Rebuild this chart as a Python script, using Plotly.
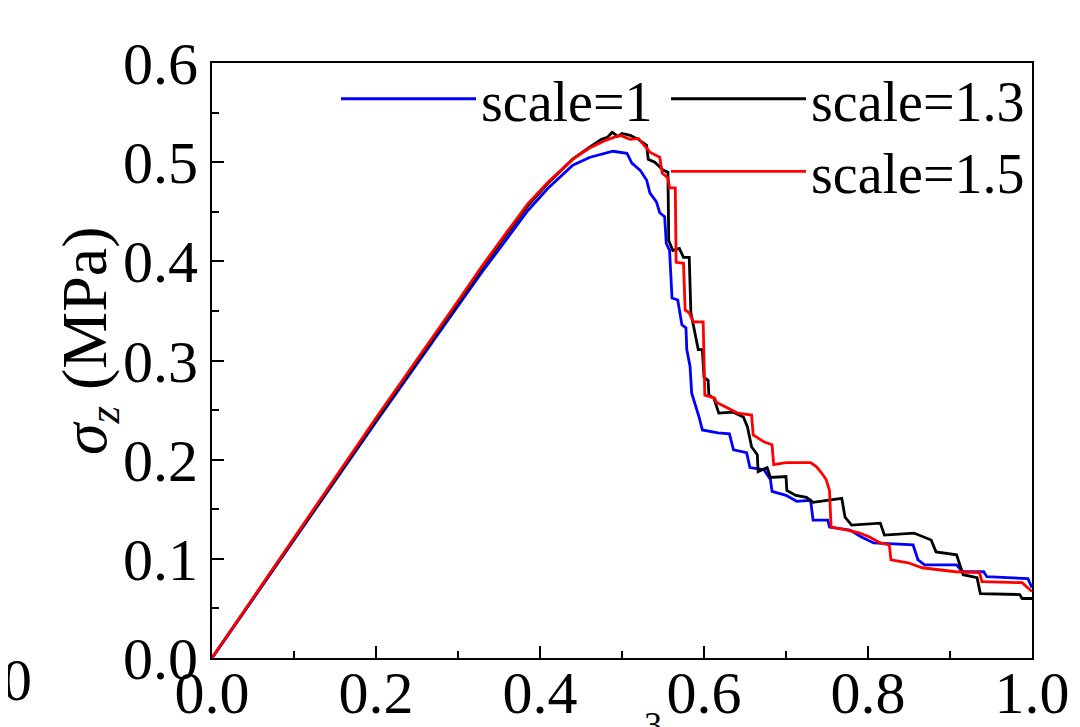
import plotly.graph_objects as go

# ---- data ----
x_s1 = [0, 0.1, 0.2, 0.3, 0.33, 0.36, 0.385, 0.41, 0.44, 0.461, 0.475, 0.489, 0.506, 0.512, 0.522, 0.530, 0.534, 0.542, 0.546, 0.552,
        0.554, 0.558, 0.561, 0.568, 0.573, 0.578, 0.579, 0.583, 0.585, 0.589, 0.594, 0.598, 0.617, 0.631, 0.636, 0.652, 0.656, 0.673, 0.681, 0.683,
        0.700, 0.713, 0.730, 0.733, 0.751, 0.753, 0.778, 0.792, 0.807, 0.855, 0.861, 0.869, 0.908, 0.915, 0.941, 0.945, 0.995, 1.0]
y_s1 = [0, 0.119, 0.238, 0.355, 0.39, 0.423, 0.451, 0.474, 0.497, 0.505, 0.508, 0.511, 0.509, 0.499, 0.492, 0.482, 0.469, 0.460, 0.449, 0.445,
        0.418, 0.411, 0.363, 0.361, 0.336, 0.333, 0.311, 0.294, 0.267, 0.257, 0.243, 0.230, 0.227, 0.226, 0.210, 0.207, 0.192, 0.190, 0.180, 0.168,
        0.164, 0.158, 0.159, 0.139, 0.139, 0.132, 0.129, 0.122, 0.116, 0.114, 0.099, 0.094, 0.094, 0.087, 0.087, 0.082, 0.080, 0.071]

x_s13 = [0, 0.1, 0.2, 0.3, 0.33, 0.36, 0.385, 0.41, 0.44, 0.46, 0.475, 0.482, 0.488, 0.495, 0.50, 0.51, 0.52, 0.53, 0.532, 0.54,
         0.55, 0.556, 0.557, 0.562, 0.57, 0.575, 0.582, 0.584, 0.589, 0.593, 0.598, 0.600, 0.605, 0.606, 0.612, 0.618, 0.635, 0.648, 0.653, 0.658,
         0.665, 0.666, 0.677, 0.681, 0.700, 0.701, 0.712, 0.725, 0.733, 0.768, 0.772, 0.780, 0.815, 0.820, 0.856, 0.877, 0.883, 0.908, 0.916, 0.933,
         0.937, 0.985, 0.988, 1.0]
y_s13 = [0, 0.12, 0.24, 0.358, 0.394, 0.428, 0.456, 0.479, 0.503, 0.515, 0.523, 0.525, 0.530, 0.526, 0.529, 0.527, 0.523, 0.517, 0.503, 0.500,
         0.492, 0.490, 0.421, 0.411, 0.413, 0.404, 0.404, 0.348, 0.328, 0.311, 0.311, 0.283, 0.280, 0.265, 0.262, 0.247, 0.248, 0.243, 0.233, 0.213,
         0.205, 0.188, 0.192, 0.182, 0.183, 0.169, 0.164, 0.162, 0.157, 0.161, 0.142, 0.134, 0.136, 0.124, 0.126, 0.119, 0.107, 0.104, 0.084, 0.081,
         0.065, 0.064, 0.060, 0.060]

x_s15 = [0, 0.1, 0.2, 0.3, 0.33, 0.36, 0.385, 0.41, 0.44, 0.46, 0.48, 0.49, 0.498, 0.51, 0.52, 0.534, 0.546, 0.549, 0.556, 0.558,
         0.565, 0.566, 0.575, 0.577, 0.582, 0.587, 0.599, 0.601, 0.613, 0.615, 0.627, 0.641, 0.658, 0.660, 0.673, 0.683, 0.685, 0.700, 0.730, 0.737,
         0.743, 0.749, 0.753, 0.755, 0.775, 0.790, 0.802, 0.815, 0.826, 0.828, 0.849, 0.866, 0.907, 0.936, 0.939, 0.988, 1.0]
y_s15 = [0, 0.121, 0.242, 0.36, 0.396, 0.43, 0.458, 0.48, 0.503, 0.514, 0.522, 0.525, 0.527, 0.523, 0.524, 0.510, 0.505, 0.489, 0.484, 0.474,
         0.474, 0.399, 0.398, 0.351, 0.348, 0.339, 0.339, 0.265, 0.262, 0.258, 0.253, 0.247, 0.245, 0.225, 0.218, 0.215, 0.195, 0.197, 0.197, 0.193,
         0.187, 0.180, 0.169, 0.132, 0.129, 0.126, 0.122, 0.116, 0.114, 0.099, 0.096, 0.091, 0.087, 0.086, 0.077, 0.076, 0.067]

series_names = ["scale=1", "scale=1.3", "scale=1.5"]
series_colors = ["#0000FF", "#000000", "#FF0000"]
x_ticks = [0.0, 0.2, 0.4, 0.6, 0.8, 1.0]
y_ticks = [0.0, 0.1, 0.2, 0.3, 0.4, 0.5, 0.6]

FONT = "Liberation Serif, Times New Roman, serif"

fig = go.Figure()
fig.add_trace(go.Scatter(x=x_s1, y=y_s1, mode="lines", name=series_names[0], showlegend=True,
                         line=dict(color=series_colors[0], width=2.8), legend="legend"))
fig.add_trace(go.Scatter(x=x_s13, y=y_s13, mode="lines", name=series_names[1], showlegend=True,
                         line=dict(color=series_colors[1], width=2.8), legend="legend2"))
fig.add_trace(go.Scatter(x=x_s15, y=y_s15, mode="lines", name=series_names[2], showlegend=True,
                         line=dict(color=series_colors[2], width=2.8), legend="legend3"))

axis_common = dict(showgrid=False, zeroline=False, showline=True, linecolor="black", linewidth=2,
                   mirror=True, ticks="inside", ticklen=12, tickwidth=1.5, tickcolor="black",
                   tickfont=dict(family=FONT, size=60, color="black"), tickformat=".1f",
                   automargin=False)

fig.update_xaxes(range=[0, 1.0], tickvals=x_ticks, ticklabelstandoff=-19,
                 minor=dict(dtick=0.1, ticks="inside", ticklen=7, tickwidth=1.5, tickcolor="black"),
                 **axis_common)
fig.update_yaxes(range=[0, 0.6], tickvals=y_ticks,
                 minor=dict(dtick=0.05, ticks="inside", ticklen=7, tickwidth=1.5, tickcolor="black"),
                 **axis_common)

# page-pixel -> paper helpers (plot area spans page x 212..1032, y 63..658)
px_x = lambda p: (p - 212) / 820.0
px_y = lambda p: (658 - p) / 595.0

leg_common = dict(orientation="h", font=dict(family=FONT, size=56, color="black"),
                  bgcolor="rgba(0,0,0,0)", borderwidth=0, itemwidth=135,
                  xanchor="right", yanchor="top", visible=True)
fig.update_layout(
    showlegend=True,
    legend=dict(x=px_x(658), y=1.012, **leg_common),
    legend2=dict(x=px_x(1030), y=1.012, **leg_common),
    legend3=dict(x=px_x(1030), y=0.89, **leg_common),
)

# partial neighbouring panel at the far left edge
shapes = [
    dict(type="line", xref="paper", yref="paper", x0=px_x(3), x1=px_x(3), y0=px_y(66), y1=px_y(642),
         line=dict(color="black", width=1.5)),
    dict(type="line", xref="paper", yref="paper", x0=px_x(0), x1=px_x(3), y0=px_y(66), y1=px_y(66),
         line=dict(color="black", width=1.5)),
    dict(type="line", xref="paper", yref="paper", x0=px_x(0), x1=px_x(3), y0=px_y(642), y1=px_y(642),
         line=dict(color="black", width=1.5)),
]
for ty in [125, 185, 244, 303, 362, 420, 479, 538, 597]:
    shapes.append(dict(type="line", xref="paper", yref="paper", x0=px_x(0), x1=px_x(3), y0=px_y(ty), y1=px_y(ty),
                       line=dict(color="black", width=1)))

annotations = [
    dict(text="<i>σ</i><sub><i>z</i></sub> (MPa)", xref="paper", yref="paper", x=px_x(89), y=px_y(341),
         xanchor="center", yanchor="middle", textangle=-90, showarrow=False,
         font=dict(family=FONT, size=64, color="black")),
    dict(text="1.0", xref="paper", yref="paper", x=px_x(34), y=px_y(645), xanchor="right", yanchor="top",
         showarrow=False, font=dict(family=FONT, size=60, color="black")),
    dict(text="3", xref="paper", yref="paper", x=px_x(653), y=px_y(703), xanchor="center", yanchor="top",
         showarrow=False, font=dict(family=FONT, size=36, color="black")),
]

# the page body adds an 8 px offset, so the figure margins are shifted to compensate
fig.update_layout(
    width=1080, height=727,
    margin=dict(l=204, r=56, t=55, b=77),
    paper_bgcolor="white", plot_bgcolor="white",
    shapes=shapes, annotations=annotations,
    font=dict(family=FONT, color="black"),
)

fig.write_html("out.html")
